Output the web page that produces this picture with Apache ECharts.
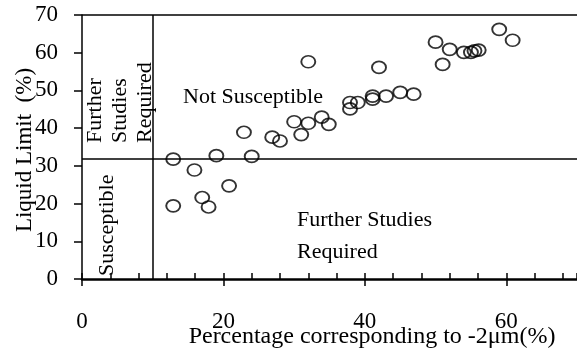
<!DOCTYPE html>
<html><head><meta charset="utf-8">
<script src="https://cdn.jsdelivr.net/npm/echarts@6/dist/echarts.min.js"></script>
<style>html,body{margin:0;padding:0;background:#fff}#c{width:577px;height:352px}</style>
</head><body><div id="c"></div>
<script>
const xValues = [12.9,12.9,15.9,17.0,17.9,19.0,20.8,22.9,24.0,26.9,28.0,30.0,31.0,32.0,32.0,33.9,34.9,37.9,37.9,39.0,41.1,41.1,42.0,43.0,45.0,46.9,50.0,51.0,52.0,54.0,55.0,55.5,56.1,59.0,60.9];
const yValues = [31.8,19.4,28.9,21.6,19.1,32.7,24.7,38.9,32.5,37.6,36.6,41.7,38.3,41.3,57.6,42.9,41.0,46.8,45.1,46.8,48.5,47.7,56.1,48.5,49.5,49.0,62.8,56.9,60.9,60.1,60.1,60.5,60.7,66.2,63.3];
const xTicks = [0, 20, 40, 60];
const yTicks = [0, 10, 20, 30, 40, 50, 60, 70];
const clayLimit = 10;
const llLimit = 32;

const FONT = 'Liberation Serif';
const chart = echarts.init(document.getElementById('c'), null, {renderer: 'canvas'});
const pts = xValues.map((x, i) => [x, yValues[i]]);
const lineStyle = {color: '#000', width: 1.5, type: 'solid'};
chart.setOption({
  animation: false,
  grid: {left: 82, top: 15, width: 500, height: 264, containLabel: false},
  xAxis: [{
    type: 'value', min: 0, max: 70, interval: 20,
    axisLine: {show: true, onZero: false, lineStyle: {color: '#000', width: 2.5}},
    axisTick: {show: true, inside: false, length: 7, lineStyle: {color: '#000', width: 1.5}},
    splitLine: {show: false},
    axisLabel: {margin: 31, fontFamily: FONT, fontSize: 23, color: '#000', showMaxLabel: false,
      formatter: v => xTicks.includes(v) ? String(v) : ''}
  }, {
    type: 'value', min: 0, max: 70, interval: 4, position: 'bottom',
    axisLine: {show: false},
    axisTick: {show: true, inside: true, length: 6, lineStyle: {color: '#000', width: 1.5}},
    splitLine: {show: false}, axisLabel: {show: false}
  }],
  yAxis: {
    type: 'value', min: 0, max: 70, interval: 10,
    axisLine: {show: true, onZero: false, lineStyle: {color: '#000', width: 1.5}},
    axisTick: {show: true, inside: false, length: 8, lineStyle: {color: '#000', width: 1.5}},
    splitLine: {show: false},
    axisLabel: {margin: 24, fontFamily: FONT, fontSize: 23, color: '#000',
      formatter: v => yTicks.includes(v) ? String(v) : ''}
  },
  series: [{
    type: 'scatter', data: pts, symbol: 'circle', symbolSize: [14, 12],
    itemStyle: {color: 'rgba(0,0,0,0)', borderColor: '#000', borderWidth: 1.8},
    markLine: {
      silent: true, symbol: ['none', 'none'], label: {show: false},
      lineStyle: lineStyle,
      data: [{yAxis: 70}, {yAxis: llLimit}, {xAxis: clayLimit}]
    }
  }],
  graphic: [
    {type: 'text', x: 372, y: 337, style: {text: 'Percentage corresponding to -2\u03bcm(%)', font: '24px ' + FONT, fill: '#000', align: 'center', verticalAlign: 'middle'}},
    {type: 'text', x: 25, y: 150, rotation: Math.PI / 2, style: {text: 'Liquid Limit  (%)', font: '23px ' + FONT, fill: '#000', align: 'center', verticalAlign: 'middle'}},
    {type: 'text', x: 83, y: 143, rotation: Math.PI / 2, style: {text: 'Further\nStudies\nRequired', font: '22px ' + FONT, fill: '#000', align: 'left', verticalAlign: 'top', lineHeight: 25}},
    {type: 'text', x: 95, y: 276, rotation: Math.PI / 2, style: {text: 'Susceptible', font: '22px ' + FONT, fill: '#000', align: 'left', verticalAlign: 'top', lineHeight: 25}},
    {type: 'text', x: 183, y: 97, style: {text: 'Not Susceptible', font: '22px ' + FONT, fill: '#000', align: 'left', verticalAlign: 'middle'}},
    {type: 'text', x: 297, y: 204, style: {text: 'Further Studies\nRequired', font: '22px ' + FONT, fill: '#000', align: 'left', verticalAlign: 'top', lineHeight: 32}}
  ]
});
</script></body></html>
